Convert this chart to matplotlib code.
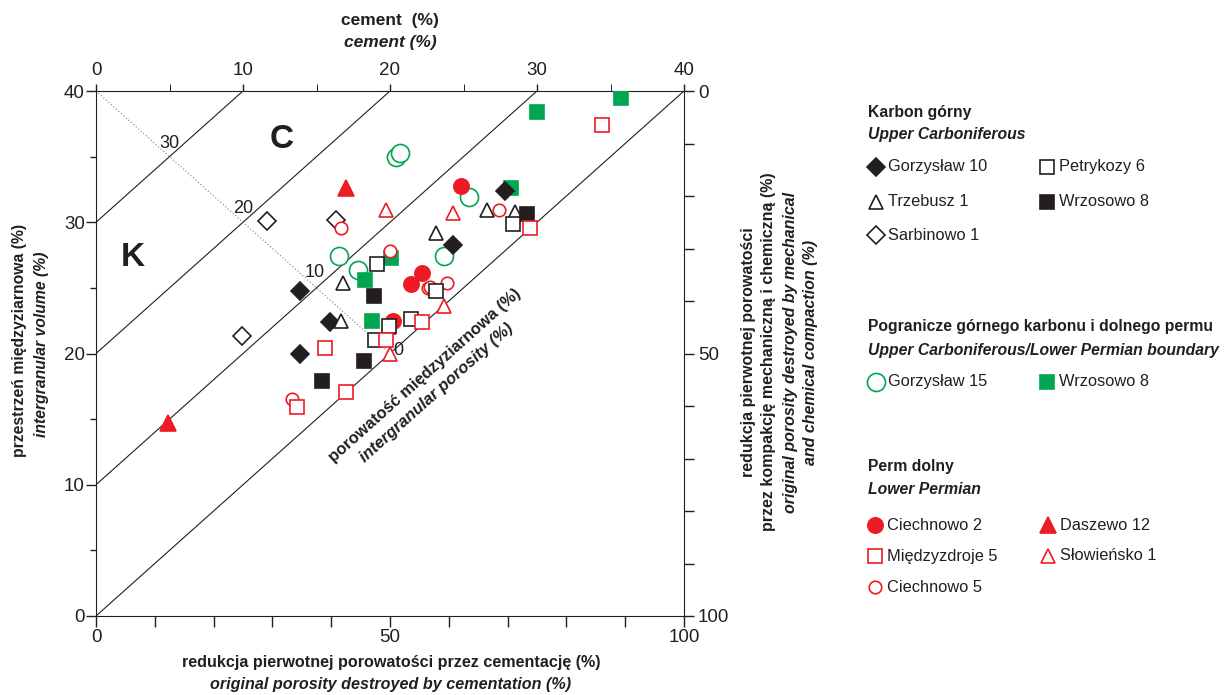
import matplotlib
matplotlib.use("Agg")
import matplotlib.pyplot as plt
from matplotlib.lines import Line2D

plt.rcParams['font.family'] = ['Liberation Sans Narrow', 'Liberation Sans', 'DejaVu Sans']

INK = '#231f20'
RED = '#ed1c24'
GREEN = '#00a651'
W, H = 1231, 695

# cement (%) / intergranular volume (%) of each sample
gorzyslaw10_cem = [13.9, 15.9, 13.9, 24.3, 27.8]
gorzyslaw10_igv = [24.8, 22.4, 20.0, 28.3, 32.4]
petrykozy6_cem = [19.1, 19.9, 21.4, 19.0, 23.1, 28.4]
petrykozy6_igv = [26.8, 22.1, 22.6, 21.0, 24.8, 29.9]
trzebusz1_cem = [16.8, 16.7, 23.1, 26.6, 28.5]
trzebusz1_igv = [25.4, 22.5, 29.2, 30.9, 30.8]
wrzosowo8_cem = [18.9, 18.2, 15.4, 29.3]
wrzosowo8_igv = [24.4, 19.4, 17.9, 30.6]
sarbinowo1_cem = [11.6, 16.3, 9.9]
sarbinowo1_igv = [30.1, 30.2, 21.3]

gorzyslaw15_cem = [20.4, 20.7, 16.5, 17.8, 25.4, 23.7]
gorzyslaw15_igv = [35.0, 35.3, 27.4, 26.4, 31.9, 27.4]
wrzosowo8b_cem = [30.0, 35.7, 28.2, 20.1, 18.3, 18.8]
wrzosowo8b_igv = [38.4, 39.5, 32.6, 27.3, 25.6, 22.5]

ciechnowo2_cem = [24.8, 22.2, 21.4, 20.2]
ciechnowo2_igv = [32.8, 26.1, 25.3, 22.5]
daszewo12_cem = [17.0, 4.9]
daszewo12_igv = [32.6, 14.7]
miedzyzdroje5_cem = [34.4, 29.5, 22.2, 19.7, 15.6, 17.0, 13.7]
miedzyzdroje5_igv = [37.4, 29.6, 22.4, 21.0, 20.4, 17.1, 15.9]
slowiensko1_cem = [19.7, 24.3, 23.7, 20.0, 19.9]
slowiensko1_igv = [30.9, 30.7, 23.6, 20.0, 22.0]
ciechnowo5_cem = [16.7, 20.0, 22.6, 22.7, 23.9, 27.4, 13.3]
ciechnowo5_igv = [29.6, 27.8, 25.0, 25.1, 25.4, 30.9, 16.5]

porosity_lines = [0, 10, 20, 30]

# (label, cem, igv, marker, colour, filled, size)
series = [
    ('Gorzysław 15', gorzyslaw15_cem, gorzyslaw15_igv, 'o', GREEN, False, 13),
    ('Wrzosowo 8', wrzosowo8b_cem, wrzosowo8b_igv, 's', GREEN, True, 10),
    ('Daszewo 12', daszewo12_cem, daszewo12_igv, '^', RED, True, 12),
    ('Ciechnowo 2', ciechnowo2_cem, ciechnowo2_igv, 'o', RED, True, 11),
    ('Słowieńsko 1', slowiensko1_cem, slowiensko1_igv, '^', RED, False, 10),
    ('Sarbinowo 1', sarbinowo1_cem, sarbinowo1_igv, 'D', INK, False, 9),
    ('Ciechnowo 5', ciechnowo5_cem, ciechnowo5_igv, 'o', RED, False, 9),
    ('Gorzysław 10', gorzyslaw10_cem, gorzyslaw10_igv, 'D', INK, True, 9.5),
    ('Trzebusz 1', trzebusz1_cem, trzebusz1_igv, '^', INK, False, 10),
    ('Wrzosowo 8', wrzosowo8_cem, wrzosowo8_igv, 's', INK, True, 9.5),
    ('Petrykozy 6', petrykozy6_cem, petrykozy6_igv, 's', INK, False, 9.5),
    ('Międzyzdroje 5', miedzyzdroje5_cem, miedzyzdroje5_igv, 's', RED, False, 9.5),
]

fig = plt.figure(figsize=(W / 100, H / 100), dpi=100)
ax = fig.add_axes([96 / W, 1 - 616 / H, 588 / W, 525 / H])
ax.set_xlim(0, 40)
ax.set_ylim(0, 40)

for p in porosity_lines:
    ax.plot([0, 40 - p], [p, 40], color=INK, lw=0.8, zorder=1)
ax.plot([0, 20], [40, 20], color='#808080', lw=0.8, ls=(0, (1, 2)), zorder=1)

for p, (dx, dy) in zip([30, 20, 10, 0], [(0, 13), (0, 14), (-2, 15), (8, 3)]):
    c = (40 - p) / 2
    ax.annotate(str(p), (c, 40 - c), xytext=(dx, dy), textcoords='offset pixels',
                ha='center', va='center', fontsize=13, color=INK)

for label, cem, igv, m, col, filled, ms in series:
    ax.plot(cem, igv, ls='none', marker=m, ms=ms, mec=col,
            mfc=col if filled else 'white', mew=1.2, zorder=3)

ax.text(12.6, 36.3, 'C', fontsize=24, fontweight='heavy', color=INK, ha='center', va='center')
ax.text(2.5, 27.3, 'K', fontsize=24, fontweight='heavy', color=INK, ha='center', va='center')

ax.text(22.4, 18.3, 'porowatość międzyziarnowa (%)', rotation=41.8, rotation_mode='anchor',
        ha='center', va='center', fontsize=11.8, fontweight='bold', color=INK)
ax.text(23.2, 17.0, 'intergranular porosity (%)', rotation=41.8, rotation_mode='anchor',
        ha='center', va='center', fontsize=11.8, fontweight='bold', style='italic', color=INK)

# axes: top = cement, left = IGV, bottom / right = porosity destroyed
for side in ['bottom', 'right']:
    ax.spines[side].set_visible(False)
for side in ['top', 'left']:
    ax.spines[side].set_color(INK)
ax.xaxis.tick_top()
ax.set_xticks([0, 10, 20, 30, 40])
ax.set_xticks([5, 15, 25, 35], minor=True)
ax.set_yticks([0, 10, 20, 30, 40])
ax.set_yticks([5, 15, 25, 35], minor=True)
ax.tick_params(which='major', width=1, color=INK, labelsize=13.5, labelcolor=INK)
ax.tick_params(axis='x', which='both', length=5, pad=3.5)
ax.tick_params(axis='y', which='major', length=7, pad=1)
ax.tick_params(axis='y', which='minor', length=4.5, width=1, color=INK)

sx = ax.secondary_xaxis('bottom', functions=(lambda c: c * 2.5, lambda r: r / 2.5))
sx.set_xticks(range(0, 101, 10))
sx.set_xticklabels(['0', '', '', '', '', '50', '', '', '', '', '100'])
sx.spines['bottom'].set_color(INK)
sx.tick_params(length=8, width=1, color=INK, labelsize=13.5, labelcolor=INK, pad=1.5)

sy = ax.secondary_yaxis('right', functions=(lambda v: 100 - 2.5 * v, lambda r: (100 - r) / 2.5))
sy.set_yticks(range(0, 101, 10))
sy.set_yticklabels(['0', '', '', '', '', '50', '', '', '', '', '100'])
sy.spines['right'].set_color(INK)
sy.tick_params(length=7, width=1, color=INK, labelsize=13.5, labelcolor=INK, pad=3)


def ftext(x, y, s, **kw):
    kw.setdefault('color', INK)
    kw.setdefault('va', 'center')
    fig.text(x / W, 1 - y / H, s, **kw)


ftext(390, 20, 'cement  (%)', ha='center', fontsize=12.5, fontweight='bold')
ftext(390, 42, 'cement (%)', ha='center', fontsize=12.5, fontweight='bold', style='italic')
ftext(391, 662, 'redukcja pierwotnej porowatości przez cementację (%)', ha='center',
      fontsize=11.6, fontweight='bold')
ftext(391, 684, 'original porosity destroyed by cementation (%)', ha='center',
      fontsize=11.6, fontweight='bold', style='italic')
ftext(20, 340, 'przestrzeń międzyziarnowa (%)', ha='center', rotation=90,
      fontsize=11.3, fontweight='bold')
ftext(42, 344, 'intergranular volume (%)', ha='center', rotation=90,
      fontsize=11.3, fontweight='bold', style='italic')
for x, s, st in [(748, 'redukcja pierwotnej porowatości', 'normal'),
                 (768, 'przez kompakcję mechaniczną i chemiczną (%)', 'normal'),
                 (790, 'original porosity destroyed by mechanical', 'italic'),
                 (811, 'and chemical compaction (%)', 'italic')]:
    ftext(x, 352, s, ha='center', rotation=90, fontsize=11.5, fontweight='bold', style=st)

# legend
headers = [(112, 'Karbon górny', 'normal'), (135, 'Upper Carboniferous', 'italic'),
           (327, 'Pogranicze górnego karbonu i dolnego permu', 'normal'),
           (350, 'Upper Carboniferous/Lower Permian boundary', 'italic'),
           (467, 'Perm dolny', 'normal'), (490, 'Lower Permian', 'italic')]
for y, s, st in headers:
    ftext(868, y, s, fontsize=11.3, fontweight='bold', style=st)

legend_pos = {
    ('Gorzysław 10', INK): (876, 167), ('Petrykozy 6', INK): (1047, 167),
    ('Trzebusz 1', INK): (876, 202), ('Wrzosowo 8', INK): (1047, 202),
    ('Sarbinowo 1', INK): (876, 235),
    ('Gorzysław 15', GREEN): (876, 382), ('Wrzosowo 8', GREEN): (1047, 382),
    ('Ciechnowo 2', RED): (875, 525), ('Daszewo 12', RED): (1048, 525),
    ('Międzyzdroje 5', RED): (875, 556), ('Słowieńsko 1', RED): (1048, 556),
    ('Ciechnowo 5', RED): (875, 587),
}
for label, cem, igv, m, col, filled, ms in series:
    x, y = legend_pos[(label, col)]
    fig.add_artist(Line2D([x / W], [1 - y / H], transform=fig.transFigure, ls='none',
                          marker=m, ms=ms, mec=col, mfc=col if filled else 'white', mew=1.2))
    ftext(x + 12, y, label, fontsize=11.8)

fig.savefig('out.png', dpi=100)
